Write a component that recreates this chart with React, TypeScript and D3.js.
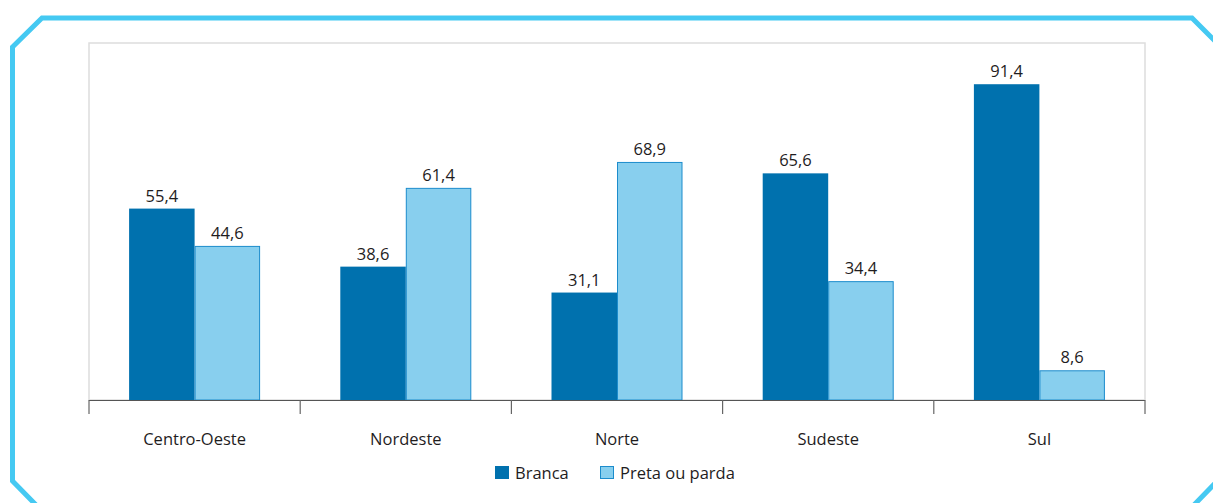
import React from "react";
import * as d3 from "d3";

const categories = ["Centro-Oeste", "Nordeste", "Norte", "Sudeste", "Sul"];
const branca = [55.4, 38.6, 31.1, 65.6, 91.4];
const preta = [44.6, 61.4, 68.9, 34.4, 8.6];
const seriesNames = ["Branca", "Preta ou parda"];

const W = 1213;
const H = 503;
const plot = { left: 89, right: 1145, top: 43, bottom: 400 };
const DARK = "#0071ae";
const LIGHT = "#88cfee";
const LIGHT_STROKE = "#1c8ccc";
const FONT = "'Open Sans', 'Noto Sans', sans-serif";
const TXT = "#1f1d1e";

const fmt = (v: number) => v.toFixed(1).replace(".", ",");

export default function App() {
  const x = d3.scaleBand<string>().domain(categories).range([plot.left, plot.right]).paddingInner(0).paddingOuter(0);
  const y = d3.scaleLinear().domain([0, 100]).range([plot.bottom, 54.5]);
  const bw = x.bandwidth();
  const barW = 65.5;
  const inner = d3.scaleBand<string>().domain(["b", "p"]).range([(bw - 2 * barW) / 2, (bw + 2 * barW) / 2]);

  const ticks = categories.map((c) => x(c)!).concat([plot.right]);
  const border = "M 37,506 L 12.5,481 L 12.5,47 L 42,18 L 1192,18 L 1228,54 L 1228,470 L 1193,506";

  return (
    <svg width={W} height={H} style={{ position: "absolute", left: 0, top: 0, background: "#fff" }}>
      <path d={border} fill="none" stroke="#45c9f2" strokeWidth={5} />
      <rect x={plot.left} y={plot.top} width={plot.right - plot.left} height={plot.bottom - plot.top} fill="none" stroke="#dddddd" strokeWidth={1.5} />
      {categories.map((c, i) => {
        const x0 = x(c)!;
        const xb = x0 + inner("b")!;
        const xp = x0 + inner("p")!;
        return (
          <g key={c}>
            <rect x={xb} y={y(branca[i])} width={barW} height={plot.bottom - y(branca[i])} fill={DARK} />
            <rect x={xp + 0.5} y={y(preta[i]) + 0.5} width={barW - 1} height={plot.bottom - y(preta[i]) - 0.5} fill={LIGHT} stroke={LIGHT_STROKE} strokeWidth={1} />
            <text x={xb + barW / 2} y={y(branca[i]) - 7} textAnchor="middle" fontFamily={FONT} fontSize={16.5} fontWeight={500} fill={TXT}>{fmt(branca[i])}</text>
            <text x={xp + barW / 2} y={y(preta[i]) - 7} textAnchor="middle" fontFamily={FONT} fontSize={16.5} fontWeight={500} fill={TXT}>{fmt(preta[i])}</text>
            <text x={x0 + bw / 2} y={445} textAnchor="middle" fontFamily={FONT} fontSize={16.5} fontWeight={500} fill={TXT}>{c}</text>
          </g>
        );
      })}
      <line x1={plot.left} x2={plot.right} y1={plot.bottom + 0.5} y2={plot.bottom + 0.5} stroke="#555" strokeWidth={1.2} />
      {ticks.map((t, i) => (
        <line key={i} x1={t} x2={t} y1={plot.bottom} y2={414} stroke="#666" strokeWidth={1.2} />
      ))}
      <g>
        <rect x={495} y={466} width={14} height={13} fill={DARK} />
        <text x={515} y={478.5} fontFamily={FONT} fontSize={16.5} fontWeight={500} fill={TXT}>{seriesNames[0]}</text>
        <rect x={600.5} y={466.5} width={13} height={12} fill={LIGHT} stroke={LIGHT_STROKE} strokeWidth={1} />
        <text x={620} y={478.5} fontFamily={FONT} fontSize={16.5} fontWeight={500} fill={TXT}>{seriesNames[1]}</text>
      </g>
    </svg>
  );
}
